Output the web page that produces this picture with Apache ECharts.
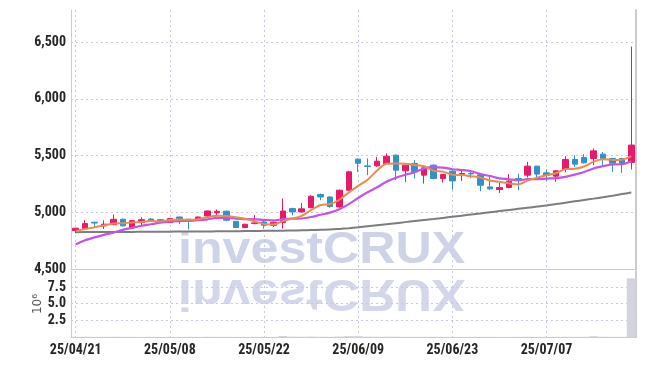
<!DOCTYPE html>
<html>
<head>
<meta charset="utf-8">
<script src="https://cdn.jsdelivr.net/npm/echarts@6/dist/echarts.min.js"></script>
<style>
html,body{margin:0;padding:0;background:#fff;}
#c{width:645px;height:366px;}
</style>
</head>
<body>
<div id="c"></div>
<script>
const dates = ['25/04/21','25/04/22','25/04/23','25/04/24','25/04/25','25/04/28','25/04/29','25/04/30','25/05/02','25/05/07',
'25/05/08','25/05/09','25/05/12','25/05/13','25/05/14','25/05/15','25/05/16','25/05/19','25/05/20','25/05/21',
'25/05/22','25/05/23','25/05/26','25/05/27','25/05/28','25/05/29','25/05/30','25/06/02','25/06/04','25/06/05',
'25/06/09','25/06/10','25/06/11','25/06/12','25/06/13','25/06/16','25/06/17','25/06/18','25/06/19','25/06/20',
'25/06/23','25/06/24','25/06/25','25/06/26','25/06/27','25/06/30','25/07/01','25/07/02','25/07/03','25/07/04',
'25/07/07','25/07/08','25/07/09','25/07/10','25/07/11','25/07/14','25/07/15','25/07/16','25/07/17','25/07/18'];

const opens = [4838,4856,4912,4880,4891,4938,4862,4910,4940,4935,
4910,4958,4938,4936,4967,4995,5009,4920,4866,4900,
4914,4885,4910,5032,5003,5041,5156,5135,5047,5194,
5468,5408,5409,5430,5503,5365,5430,5327,5415,5297,
5362,5324,5342,5330,5223,5200,5218,5297,5327,5406,
5347,5318,5377,5465,5483,5474,5512,5474,5474,5439];

const closes = [4860,4900,4905,4895,4938,4880,4926,4935,4930,4925,
4944,4945,4922,4958,5011,5008,4930,4866,4894,4906,
4886,4912,5011,5003,5030,5141,5135,5050,5194,5356,
5432,5404,5450,5494,5371,5415,5356,5391,5297,5333,
5276,5341,5338,5238,5206,5218,5274,5289,5406,5336,
5326,5365,5465,5424,5436,5541,5474,5432,5430,5592];

const lows = [4815,4850,4870,4852,4885,4875,4855,4885,4920,4915,
4905,4895,4848,4930,4960,4965,4920,4862,4860,4895,
4856,4870,4856,4973,5000,5035,5106,5040,5040,5190,
5356,5327,5400,5425,5283,5268,5297,5253,5290,5262,
5200,5276,5300,5185,5194,5170,5211,5194,5306,5306,
5276,5268,5353,5400,5430,5415,5400,5356,5347,5377];

const highs = [4862,4929,4915,4929,4980,4945,4930,4956,4950,4940,
4950,4962,4940,4962,5015,5025,5015,4922,4900,4975,
4925,4918,5121,5040,5082,5150,5165,5140,5200,5365,
5475,5474,5488,5518,5510,5420,5459,5395,5420,5336,
5370,5365,5370,5340,5312,5259,5336,5341,5444,5410,
5377,5370,5494,5503,5512,5562,5532,5480,5480,6460];

const ma5 = [4835,4852,4868,4884,4900,4904,4909,4915,4922,4919,
4932,4936,4933,4939,4956,4969,4966,4955,4942,4921,
4896,4893,4922,4944,4968,5019,5064,5072,5110,5175,
5233,5287,5367,5427,5430,5427,5417,5405,5366,5358,
5331,5328,5317,5305,5280,5268,5255,5245,5279,5305,
5326,5344,5380,5383,5403,5446,5468,5461,5463,5494];

const ma10 = [4717,4753,4779,4801,4821,4845,4863,4881,4894,4909,
4918,4922,4924,4930,4938,4950,4951,4944,4940,4938,
4933,4929,4938,4943,4945,4958,4978,4997,5027,5072,
5126,5176,5220,5269,5303,5330,5352,5386,5397,5394,
5379,5372,5361,5336,5319,5299,5291,5281,5292,5292,
5297,5300,5312,5331,5354,5386,5406,5421,5423,5449];

const maLong = [4824,4825,4825,4826,4826,4827,4827,4828,4828,4829,
4829,4830,4830,4831,4831,4832,4832,4833,4834,4835,
4836,4837,4838,4839,4841,4843,4845,4847,4853,4860,
4868,4877,4886,4895,4904,4913,4922,4931,4940,4950,
4960,4970,4980,4990,5000,5010,5020,5030,5040,5050,
5060,5072,5084,5096,5108,5120,5133,5146,5160,5174];

const volumes = [0.03,0.04,0.02,0.03,0.04,0.03,0.03,0.02,0.03,0.02,
0.03,0.02,0.03,0.02,0.04,0.03,0.03,0.02,0.02,0.03,
0.03,0.02,0.15,0.05,0.04,0.06,0.04,0.03,0.08,0.14,
0.12,0.05,0.04,0.05,0.04,0.03,0.03,0.03,0.04,0.03,
0.03,0.02,0.02,0.03,0.03,0.02,0.02,0.03,0.04,0.03,
0.03,0.03,0.04,0.03,0.03,0.12,0.04,0.03,0.03,8.8];

const candleData = opens.map((o, i) => [o, closes[i], lows[i], highs[i]]);

const labelFont = {fontFamily: '"Roboto Condensed", "DejaVu Sans Condensed", sans-serif', fontWeight: 'bold', color: '#262626'};
const dotH = {type: [2, 3], color: '#c9c9dd', width: 1};
const dotV = {type: [2, 3], color: '#c3c8e6', width: 1};
const wmFill = '#cfd3e7';
const wmFont = 'bold 52px "Liberation Sans", Arial, sans-serif';

const chart = echarts.init(document.getElementById('c'), null, {renderer: 'canvas'});
chart.setOption({
  animation: false,
  backgroundColor: '#ffffff',
  grid: [
    {left: 71, right: 9, top: 10, height: 259},
    {left: 71, right: 9, top: 271, height: 66}
  ],
  xAxis: [
    {gridIndex: 0, type: 'category', data: dates, boundaryGap: true,
     axisLine: {show: true, lineStyle: {color: '#cccccc', width: 1}},
     axisTick: {show: false}, axisLabel: {show: false},
     splitLine: {show: true, interval: 9, alignWithLabel: true, lineStyle: dotV}},
    {gridIndex: 1, type: 'category', data: dates, boundaryGap: true,
     axisLine: {show: true, lineStyle: {color: '#cccccc', width: 1}},
     axisTick: {show: false},
     axisLabel: Object.assign({show: true, interval: 9, margin: 6, fontSize: 14}, labelFont),
     splitLine: {show: true, interval: 9, alignWithLabel: true, lineStyle: dotV}}
  ],
  yAxis: [
    {gridIndex: 0, type: 'value', min: 4500, max: 6782, interval: 500, position: 'left',
     axisLine: {show: true, lineStyle: {color: '#cccccc', width: 1}},
     axisTick: {show: false},
     axisLabel: Object.assign({margin: 5, fontSize: 14, showMaxLabel: false,
       formatter: v => (v % 500 === 0 ? v.toLocaleString('en-US') : '')}, labelFont),
     splitLine: {show: true, showMinLine: false, showMaxLine: false, lineStyle: dotH}},
    {gridIndex: 0, type: 'value', min: 4500, max: 6782, position: 'right',
     axisLine: {show: true, lineStyle: {color: '#cccccc', width: 2}},
     axisTick: {show: false}, axisLabel: {show: false}, splitLine: {show: false}},
    {gridIndex: 1, type: 'value', min: 0, max: 9.9, interval: 2.5, position: 'left',
     name: '10⁶', nameLocation: 'middle', nameRotate: 90, nameGap: 27, nameMoveOverlap: false,
     nameTextStyle: {fontFamily: '"DejaVu Sans", sans-serif', fontSize: 12, color: '#555'},
     axisLine: {show: true, lineStyle: {color: '#cccccc', width: 1}},
     axisTick: {show: false},
     axisLabel: Object.assign({margin: 5, fontSize: 14, showMinLabel: false, showMaxLabel: false,
       formatter: v => (v > 0 && Math.abs(v / 2.5 - Math.round(v / 2.5)) < 1e-6 ? v.toFixed(1) : '')}, labelFont),
     splitLine: {show: true, showMinLine: false, showMaxLine: false, lineStyle: dotH}},
    {gridIndex: 1, type: 'value', min: 0, max: 9.9, position: 'right',
     axisLine: {show: true, lineStyle: {color: '#cccccc', width: 2}},
     axisTick: {show: false}, axisLabel: {show: false}, splitLine: {show: false}}
  ],
  graphic: [
    {type: 'text', x: 178, y: 264.6, scaleX: 0.965, scaleY: 0.84, z: 0, silent: true,
     style: {x: 0, y: -16, text: 'investCRUX', font: wmFont, fill: wmFill, verticalAlign: 'middle'}},
    {type: 'text', x: 178, y: 278.4, scaleX: 0.965, scaleY: -0.84, z: 0, silent: true,
     style: {x: 0, y: -16, text: 'investCRUX', font: wmFont, fill: wmFill, opacity: 0.9, verticalAlign: 'middle'}}
  ],
  series: [
    {type: 'bar', xAxisIndex: 1, yAxisIndex: 2, data: volumes, barWidth: '96%',
     itemStyle: {color: '#d4d4de'}, z: 2},
    {type: 'candlestick', xAxisIndex: 0, yAxisIndex: 0, data: candleData, barWidth: 6,
     itemStyle: {color: '#e8196b', color0: '#2f93c8', borderColor: '#e8196b', borderColor0: '#2f93c8', borderWidth: 1}, z: 2},
    {type: 'line', xAxisIndex: 0, yAxisIndex: 0, data: maLong, symbol: 'none', smooth: 0.3,
     lineStyle: {color: '#7d7d7d', width: 2}, z: 3},
    {type: 'line', xAxisIndex: 0, yAxisIndex: 0, data: ma10, symbol: 'none', smooth: 0.3,
     lineStyle: {color: '#c653e8', width: 2.2}, z: 3},
    {type: 'line', xAxisIndex: 0, yAxisIndex: 0, data: ma5, symbol: 'none', smooth: 0.3,
     lineStyle: {color: '#ef8a4c', width: 2}, z: 4}
  ]
});
</script>
</body>
</html>
